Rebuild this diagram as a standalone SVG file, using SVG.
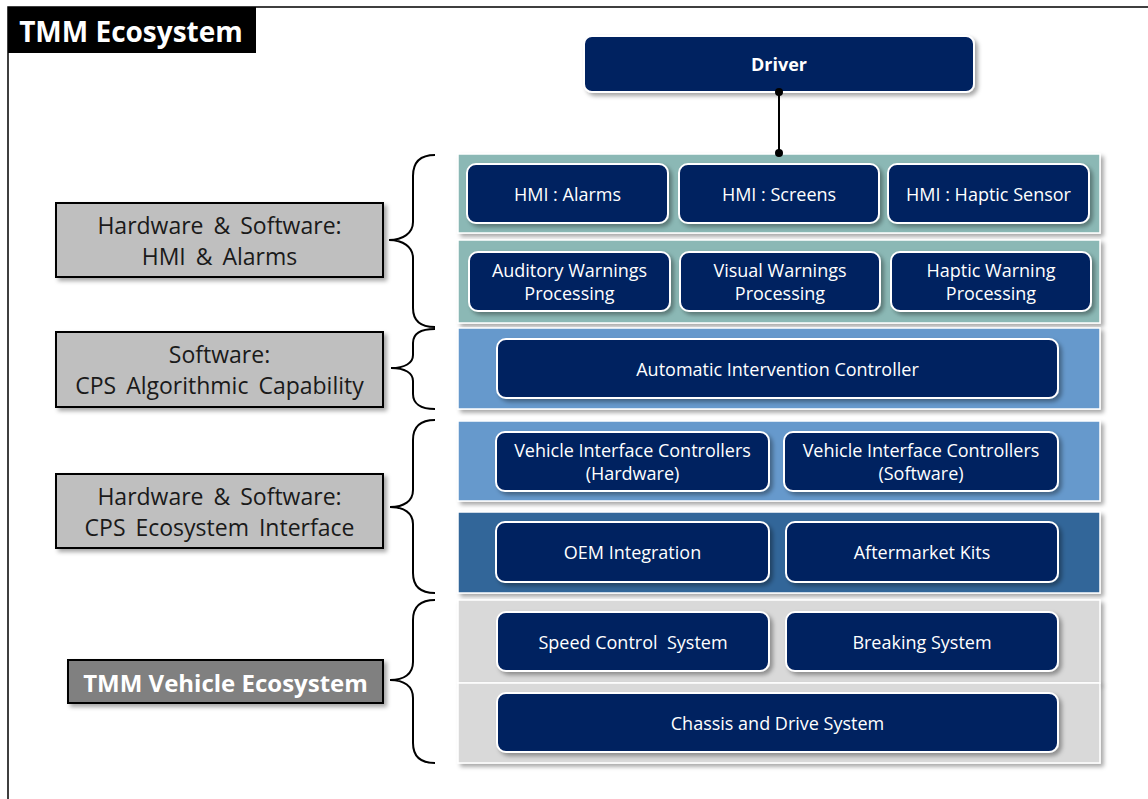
<svg xmlns="http://www.w3.org/2000/svg" width="1148" height="799" viewBox="0 0 1148 799">
<defs>
<filter id="sh" x="-10%" y="-20%" width="125%" height="150%">
<feDropShadow dx="3" dy="3" stdDeviation="2" flood-color="#000" flood-opacity="0.35"/>
</filter>
<style>
.band{stroke:#ffffff;stroke-width:1.5;filter:url(#sh)}
.teal{fill:#8bb8b5}
.lblue{fill:#6699cc}
.dblue{fill:#336699}
.gray{fill:#d9d9d9}
.box{fill:#002060;stroke:#ffffff;stroke-width:2;filter:url(#sh)}
.bt{font-family:"Open Sans","Noto Sans","DejaVu Sans",sans-serif;font-size:18px;fill:#ffffff;text-anchor:middle;dominant-baseline:central}
.lab{fill:#bfbfbf;stroke:#000;stroke-width:2;filter:url(#sh)}
.lt{font-family:"Open Sans","Noto Sans","DejaVu Sans",sans-serif;font-size:23px;fill:#1a1a1a;text-anchor:middle;dominant-baseline:central;word-spacing:4px}
.brace{fill:none;stroke:#000;stroke-width:2}
</style>
</defs>
<rect width="1148" height="799" fill="#ffffff"/>
<!-- frame -->
<path d="M8,799 L8,7 L1148,7" fill="none" stroke="#000" stroke-width="1.5"/>
<g id="title">
<rect x="8" y="7" width="248" height="46" fill="#000"/>
<text x="131" y="31" font-family="'Open Sans','Noto Sans',sans-serif" font-size="28" font-weight="bold" fill="#fff" text-anchor="middle" dominant-baseline="central">TMM Ecosystem</text>
</g>
<!-- bands -->
<g id="bands">
<rect class="band teal" x="458" y="154" width="642" height="79"/>
<rect class="band teal" x="458" y="240" width="642" height="83"/>
<rect class="band lblue" x="458" y="328" width="642" height="81"/>
<rect class="band lblue" x="458" y="421" width="642" height="80"/>
<rect class="band dblue" x="458" y="512" width="642" height="81"/>
<rect class="band gray" x="458" y="600" width="642" height="83"/>
<rect class="band gray" x="458" y="683" width="642" height="80"/>
</g>
<g id="driver">
<rect class="box" x="584" y="36" width="390" height="56" rx="8"/>
<text class="bt" x="779" y="64" font-weight="bold">Driver</text>
</g>
<g id="hmi-alarms"><rect class="box" x="467" y="164" width="201" height="59" rx="9"/><text class="bt" x="567.5" y="193.5">HMI : Alarms</text></g>
<g id="hmi-screens"><rect class="box" x="679" y="164" width="200" height="59" rx="9"/><text class="bt" x="779" y="193.5">HMI : Screens</text></g>
<g id="hmi-haptic"><rect class="box" x="888" y="164" width="201" height="59" rx="9"/><text class="bt" x="988.5" y="193.5">HMI : Haptic Sensor</text></g>
<g id="auditory"><rect class="box" x="469" y="252" width="201" height="59" rx="9"/><text class="bt" x="569.5" y="270">Auditory Warnings</text><text class="bt" x="569.5" y="293">Processing</text></g>
<g id="visual"><rect class="box" x="680" y="252" width="200" height="59" rx="9"/><text class="bt" x="780" y="270">Visual Warnings</text><text class="bt" x="780" y="293">Processing</text></g>
<g id="haptic-warning"><rect class="box" x="891" y="252" width="200" height="59" rx="9"/><text class="bt" x="991" y="270">Haptic Warning</text><text class="bt" x="991" y="293">Processing</text></g>
<g id="aic"><rect class="box" x="497" y="339" width="561" height="59" rx="9"/><text class="bt" x="777.5" y="368.5">Automatic Intervention Controller</text></g>
<g id="vic-hw"><rect class="box" x="496" y="432" width="273" height="59" rx="9"/><text class="bt" x="632.5" y="450">Vehicle Interface Controllers</text><text class="bt" x="632.5" y="473">(Hardware)</text></g>
<g id="vic-sw"><rect class="box" x="784" y="432" width="274" height="59" rx="9"/><text class="bt" x="921" y="450">Vehicle Interface Controllers</text><text class="bt" x="921" y="473">(Software)</text></g>
<g id="oem"><rect class="box" x="496" y="522" width="273" height="60" rx="9"/><text class="bt" x="632.5" y="552">OEM Integration</text></g>
<g id="aftermarket"><rect class="box" x="786" y="522" width="272" height="60" rx="9"/><text class="bt" x="922" y="552">Aftermarket Kits</text></g>
<g id="speed"><rect class="box" x="497" y="612" width="272" height="59" rx="9"/><text class="bt" x="633" y="641.5" xml:space="preserve">Speed Control  System</text></g>
<g id="breaking"><rect class="box" x="786" y="612" width="272" height="59" rx="9"/><text class="bt" x="922" y="641.5">Breaking System</text></g>
<g id="chassis"><rect class="box" x="497" y="693" width="561" height="59" rx="9"/><text class="bt" x="777.5" y="722.5">Chassis and Drive System</text></g>
<g id="label-hmi"><rect class="lab" x="56" y="203" width="327" height="74"/><text class="lt" x="219.5" y="225">Hardware &amp; Software:</text><text class="lt" x="219.5" y="256">HMI &amp; Alarms</text></g>
<g id="label-cps-alg"><rect class="lab" x="56" y="332" width="327" height="75"/><text class="lt" x="219.5" y="354">Software:</text><text class="lt" x="219.5" y="385">CPS Algorithmic Capability</text></g>
<g id="label-cps-eco"><rect class="lab" x="56" y="474" width="327" height="74"/><text class="lt" x="219.5" y="496">Hardware &amp; Software:</text><text class="lt" x="219.5" y="527">CPS Ecosystem Interface</text></g>
<g id="label-vehicle"><rect x="68" y="660" width="315" height="43" fill="#808080" stroke="#000" stroke-width="2" filter="url(#sh)"/><text x="225.5" y="682" font-family="'Open Sans','Noto Sans',sans-serif" font-size="24" font-weight="bold" fill="#fff" text-anchor="middle" dominant-baseline="central">TMM Vehicle Ecosystem</text></g>
<g id="connectors">
<line x1="779" y1="92" x2="779" y2="153" stroke="#000" stroke-width="2"/>
<circle cx="779" cy="92" r="4" fill="#000"/>
<circle cx="779" cy="153" r="4" fill="#000"/>
<path class="brace" d="M435,155 C420,155 413,162 413,176 L413,222 C413,233 403,240 389,240 C403,240 413,247 413,258 L413,308 C413,321 420,327 435,327"/>
<path class="brace" d="M435,329 C420,329 413,334 413,343 L413,355 C413,363 405,368 391,368 C405,368 413,373 413,381 L413,394 C413,403 420,409 435,409"/>
<path class="brace" d="M435,420 C420,420 413,427 413,440 L413,490 C413,501 404,507 390,507 C404,507 413,513 413,524 L413,573 C413,586 420,593 435,593"/>
<path class="brace" d="M435,600 C420,600 413,607 413,620 L413,662 C413,674 404,680 390,680 C404,680 413,686 413,698 L413,743 C413,756 420,763 435,763"/>
</g>
</svg>
